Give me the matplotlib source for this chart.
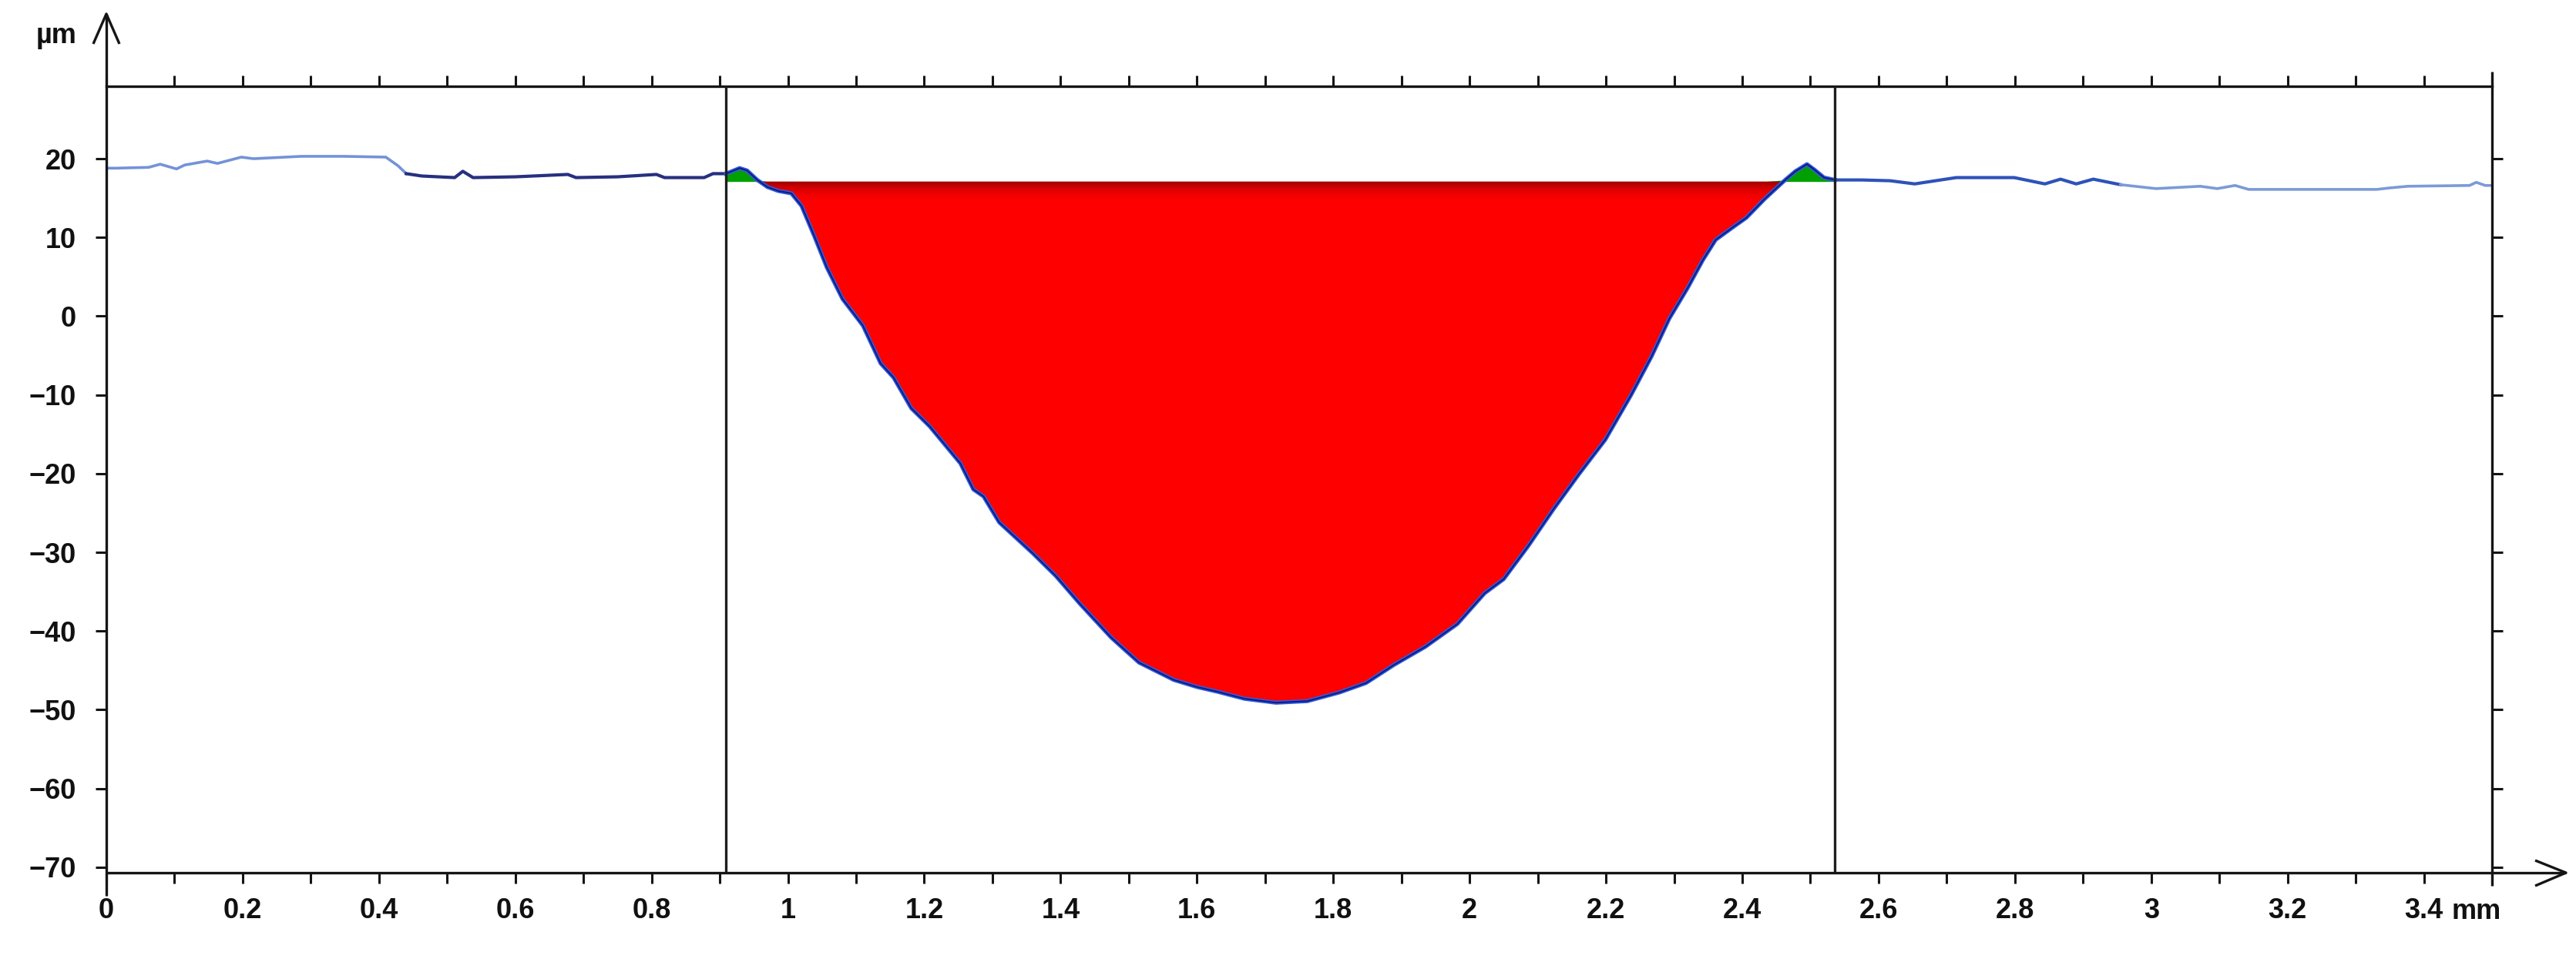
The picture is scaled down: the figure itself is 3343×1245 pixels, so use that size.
import numpy as np
import matplotlib.pyplot as plt
from matplotlib.lines import Line2D
from matplotlib.patches import Polygon
from matplotlib.ticker import MultipleLocator
from matplotlib.colors import LinearSegmentedColormap

plt.rcParams['font.family'] = ['Liberation Sans', 'DejaVu Sans']
plt.rcParams['font.weight'] = 'bold'

# profile: x in mm, z in µm
left_x = [0.0, 0.015, 0.062, 0.079, 0.103, 0.115, 0.148, 0.163, 0.198, 0.216, 0.286, 0.35, 0.41,
          0.428, 0.44, 0.463, 0.511, 0.523, 0.538, 0.6, 0.677, 0.689, 0.75, 0.807, 0.819, 0.877,
          0.89, 0.909]
left_z = [18.8, 18.8, 18.9, 19.3, 18.7, 19.2, 19.7, 19.4, 20.2, 20.0, 20.3, 20.3, 20.2,
          19.1, 18.1, 17.8, 17.6, 18.4, 17.6, 17.7, 18.0, 17.6, 17.7, 18.0, 17.6, 17.6,
          18.1, 18.1]

crater_x = [0.909, 0.915, 0.929, 0.94, 0.955, 0.97, 0.986, 1.005, 1.02, 1.039, 1.057, 1.08, 1.095,
            1.11, 1.136, 1.155, 1.181, 1.208, 1.253, 1.272, 1.287, 1.31, 1.359, 1.393, 1.428,
            1.474, 1.515, 1.566, 1.6, 1.63, 1.67, 1.716, 1.762, 1.809, 1.848, 1.889, 1.935, 1.982,
            2.022, 2.05, 2.086, 2.124, 2.161, 2.199, 2.237, 2.267, 2.293, 2.32, 2.342, 2.361,
            2.388, 2.406, 2.433, 2.463, 2.478, 2.495, 2.506, 2.52, 2.536]
crater_z = [18.1, 18.3, 18.8, 18.5, 17.3, 16.4, 15.9, 15.6, 14.0, 10.1, 6.2, 2.2, 0.5,
            -1.2, -6.0, -7.8, -11.7, -14.0, -18.7, -22.0, -22.9, -26.2, -30.1, -33.0, -36.5,
            -40.8, -44.0, -46.2, -47.1, -47.7, -48.6, -49.1, -48.9, -47.8, -46.6, -44.3, -42.0, -39.1,
            -35.2, -33.4, -29.2, -24.4, -20.0, -15.7, -10.0, -5.1, -0.3, 3.6, 7.1, 9.7,
            11.4, 12.5, 14.9, 17.3, 18.4, 19.3, 18.6, 17.6, 17.3]

right_x = [2.536, 2.576, 2.617, 2.653, 2.714, 2.799, 2.844, 2.867, 2.89, 2.915, 2.955, 3.007,
           3.072, 3.097, 3.123, 3.143, 3.331, 3.351, 3.377, 3.467, 3.477, 3.49, 3.5]
right_z = [17.3, 17.3, 17.2, 16.8, 17.6, 17.6, 16.8, 17.4, 16.8, 17.4, 16.7, 16.2,
           16.5, 16.2, 16.6, 16.1, 16.1, 16.3, 16.5, 16.6, 17.0, 16.6, 16.6]

ref_level = 17.1
cursor_x = [0.909, 2.536]

x_major = [0, 0.2, 0.4, 0.6, 0.8, 1, 1.2, 1.4, 1.6, 1.8, 2, 2.2, 2.4, 2.6, 2.8, 3, 3.2, 3.4]
x_labels = ['0', '0.2', '0.4', '0.6', '0.8', '1', '1.2', '1.4', '1.6', '1.8', '2', '2.2',
            '2.4', '2.6', '2.8', '3', '3.2', '3.4']
y_major = [-70, -60, -50, -40, -30, -20, -10, 0, 10, 20]
y_labels = ['\u221270', '\u221260', '\u221250', '\u221240', '\u221230', '\u221220', '\u221210',
            '0', '10', '20']

W, H = 3343, 1245
fig = plt.figure(figsize=(W / 100, H / 100), dpi=100)
L, R, T, B = 138, 3234, 112, 1133
ax = fig.add_axes([L / W, 1 - B / H, (R - L) / W, (B - T) / H])
ax.set_xlim(0, 3.5)
ax.set_ylim(-70.7, 29.2)

cx = np.array(crater_x)
cz = np.array(crater_z)
low = np.minimum(cz, ref_level)
high = np.maximum(cz, ref_level)

ax.fill_between(cx, ref_level, low, color='#ff0000', lw=0, zorder=2)
ax.fill_between(cx, ref_level, high, color='#00a000', lw=0, zorder=2)

# dark band under the reference line
red_poly = Polygon(np.column_stack([np.r_[cx, cx[::-1]], np.r_[low, np.full(len(cx), ref_level)]]),
                   closed=True, transform=ax.transData, fc='none', ec='none')
ax.add_patch(red_poly)
grad = np.linspace(0, 1, 64).reshape(-1, 1) ** 2.5
cmap = LinearSegmentedColormap.from_list('band', ['#ff0000', '#9a0000'])
im = ax.imshow(grad, cmap=cmap, origin='lower', aspect='auto', zorder=2.5,
               extent=[cursor_x[0], cursor_x[1], ref_level - 3.2, ref_level])
im.set_clip_path(red_poly)

# profile line
lx = np.array(left_x)
lz = np.array(left_z)
m = lx <= 0.44
ax.plot(lx[m], lz[m], color='#7393d8', lw=2.6, zorder=4)
ax.plot(lx[lx >= 0.44], lz[lx >= 0.44], color='#27307f', lw=3.0, zorder=4)
ax.plot(cx, cz, color='#2f5ce6', lw=3.8, zorder=4)
ax.plot(cx, cz, color='#141c78', lw=1.5, zorder=4)
rx = np.array(right_x)
rz = np.array(right_z)
ax.plot(rx[rx <= 2.96], rz[rx <= 2.96], color='#2e52b8', lw=3.0, zorder=4)
ax.plot(rx[rx >= 2.955], rz[rx >= 2.955], color='#7c9ad8', lw=2.6, zorder=4)

for xc in cursor_x:
    ax.axvline(xc, color='#1e1e1e', lw=2.4, zorder=5)

# axes, ticks
for s in ['left', 'bottom', 'right']:
    ax.spines[s].set_visible(False)
ax.spines['top'].set_linewidth(2.4)
ax.spines['top'].set_color('#151515')

ax.set_xticks(x_major)
ax.set_xticklabels(x_labels)
ax.xaxis.set_minor_locator(MultipleLocator(0.1))
ax.set_yticks(y_major)
ax.set_yticklabels(y_labels)
ax.tick_params(which='both', direction='out', length=10, width=2.2, color='#151515',
               top=True, right=True, labeltop=False, labelright=False, labelsize=26,
               labelcolor='#111111')
ax.tick_params(axis='x', pad=13)
ax.tick_params(axis='y', pad=18)

ax.annotate('mm', xy=(3.4, 0), xycoords=('data', 'axes fraction'), xytext=(26, -23.5),
            textcoords='offset points', ha='left', va='top', fontsize=26, color='#111111')
fig.text(73 / W, 1 - 47 / H, 'µm', ha='center', va='center', fontsize=26, color='#111111')


def px_line(xs, ys, lw=2.4):
    fig.add_artist(Line2D([x / W for x in xs], [1 - y / H for y in ys],
                          color='#151515', lw=lw, solid_capstyle='butt'))


px_line([L, L], [1163, 18])
px_line([121, L, 155], [57, 18, 57])
px_line([L, 3330], [B, B])
px_line([3290, 3330, 3290], [1117, B, 1150])
px_line([R, R], [93, 1150])

fig.savefig('out.png', dpi=100, facecolor='white')
